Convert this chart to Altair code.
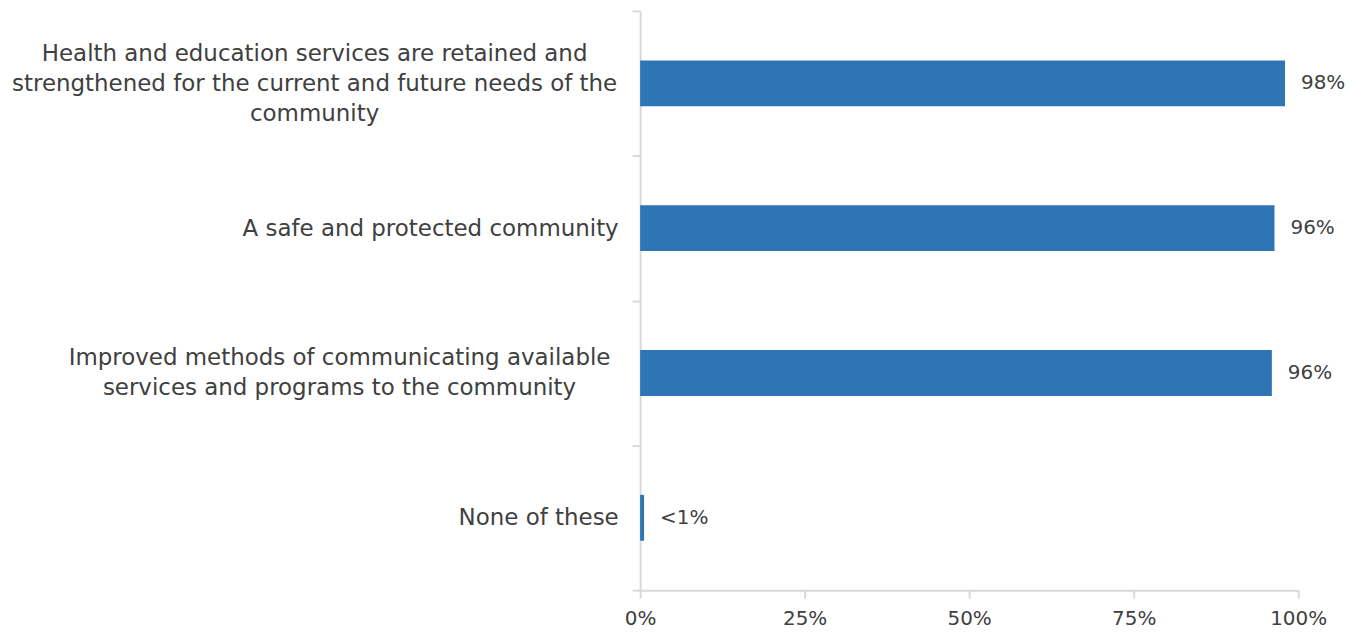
import altair as alt
import pandas as pd

categories = [
    "Health and education services are retained and|strengthened for the current and future needs of the|community",
    "A safe and protected community",
    "Improved methods of communicating available|services and programs to the community",
    "None of these",
]
values = [0.98, 0.964, 0.96, 0.006]
value_labels = ["98%", "96%", "96%", "<1%"]

df = pd.DataFrame({"cat": categories, "val": values, "lab": value_labels})

FONT = "DejaVu Sans"
TXT = "#404040"
AX = "#d9d9d9"

three = "length(split(datum.value, '|')) == 3"
two = "length(split(datum.value, '|')) == 2"

y = alt.Y("cat:N", sort=categories, title=None,
          scale=alt.Scale(paddingInner=0, paddingOuter=0),
          axis=alt.Axis(labelExpr="split(datum.label, '|')", labelFont=FONT,
                        labelFontSize=23, labelColor=TXT, labelLineHeight=30,
                        labelPadding={"condition": [
                            {"test": three, "value": 319},
                            {"test": two, "value": 294}], "value": 14},
                        labelAlign={"condition": [
                            {"test": three, "value": "center"},
                            {"test": two, "value": "center"}], "value": "right"},
                        tickBand="extent", tickSize=8,
                        labelOffset={"condition": [
                            {"test": three, "value": -30},
                            {"test": two, "value": -15}], "value": 0},
                        tickColor=AX, domainColor=AX, domainWidth=2, tickWidth=2,
                        labelLimit=700))
x = alt.X("val:Q", title=None,
          scale=alt.Scale(domain=[0, 1], nice=False),
          axis=alt.Axis(format=".0%", values=[0, 0.25, 0.5, 0.75, 1], labelFont=FONT,
                        labelFontSize=20, labelColor=TXT, labelPadding=10, grid=False,
                        labelFlush=False,
                        tickSize=8, tickColor=AX, domainColor=AX, domainWidth=2,
                        tickWidth=2))

bars = alt.Chart(df).mark_bar(size=46, color="#2E75B6").encode(y=y, x=x)
text = alt.Chart(df).mark_text(align="left", dx=16, font=FONT, fontSize=20,
                               color=TXT).encode(y=alt.Y("cat:N", sort=categories),
                                                 x="val:Q", text="lab:N")

chart = (bars + text).properties(
    width=660, height=581,
    autosize=alt.AutoSizeParams(type="none"),
    padding={"left": 634, "top": 2, "right": 60, "bottom": 40},
).configure_view(stroke=None)

chart.save("out.html", embed_options={"renderer": "svg", "actions": False})
